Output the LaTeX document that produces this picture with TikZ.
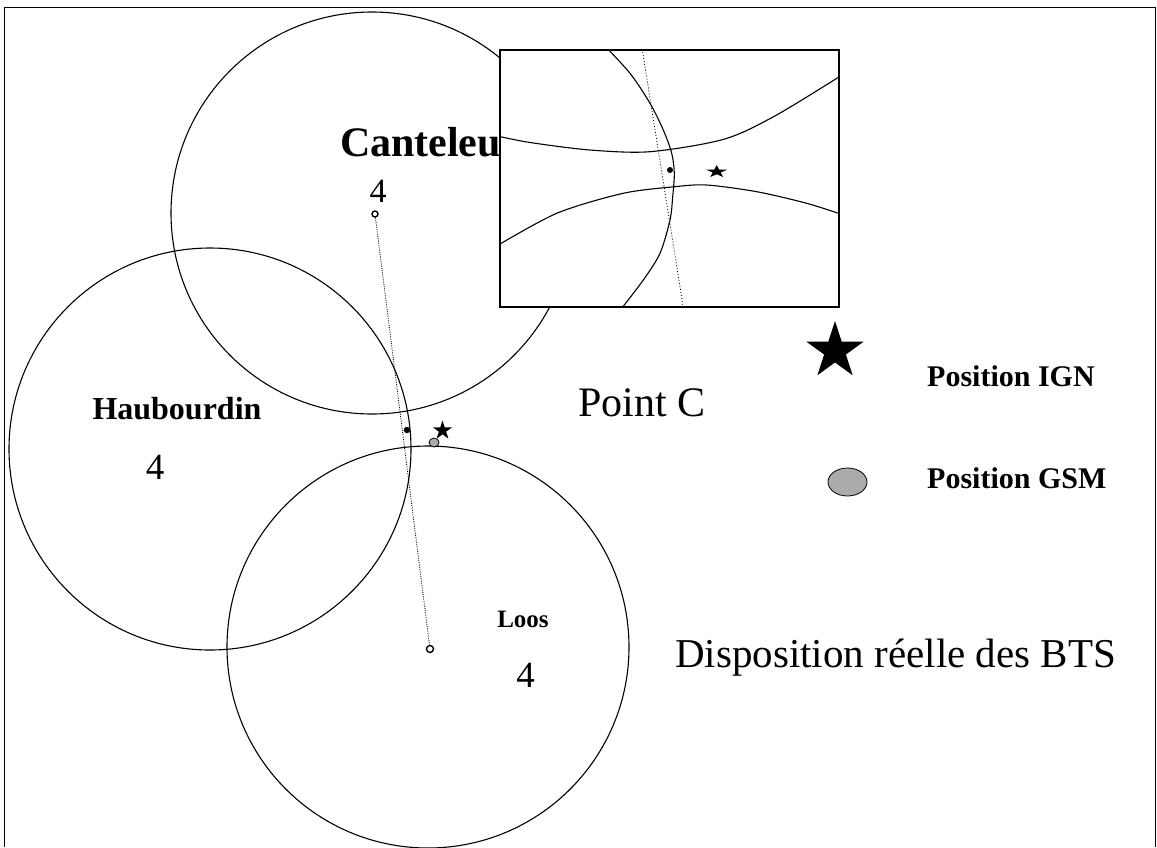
\documentclass[tikz,border=0pt]{standalone}
\usepackage{fontspec}
\setmainfont{Liberation Serif}
\usetikzlibrary{shapes.geometric}
\begin{document}
\begin{tikzpicture}[x=1pt,y=-1pt,
  cell/.style={circle, draw=black, line width=1.1pt, inner sep=0pt},
  btsdot/.style={circle, draw=black, fill=white, line width=1.4pt, inner sep=0pt, minimum size=6pt},
  fixdot/.style={circle, fill=black, inner sep=0pt, minimum size=6.5pt},
  ign/.style={star, star points=5, star point ratio=2.618, fill=black, inner sep=0pt},
  gsm/.style={ellipse, draw=black, fill=black!33, line width=0.8pt, inner sep=0pt},
  track/.style={line width=0.8pt, dash pattern=on 1pt off 1.3pt},
  arcline/.style={line width=1.1pt},
  lbl/.style={inner sep=0pt},
]
\useasboundingbox (0,0) rectangle (1157,847);
% frame
\draw[line width=1pt] (4,847) -- (4,7) -- (1155,7) -- (1155,847);

% cells
\node[cell, minimum size=402pt] (cant) at (372,213) {};
\node[cell, minimum size=402pt] (haub) at (210,449) {};
\node[cell, minimum size=402pt] (loos) at (428,647) {};

% BTS positions and track
\node[btsdot] (dc) at (375,214) {};
\node[btsdot, minimum size=7pt] (dl) at (430,649) {};
\draw[track] (dc) -- (dl);

% estimated point, IGN star, GSM position
\node[fixdot] (pc) at (407,430) {};
\node[ign, minimum size=20pt] (ignpt) at (442.5,430.5) {};
\node[gsm, minimum width=10pt, minimum height=9pt] (gsmpt) at (434,442.5) {};

% inset
\node[draw=black, fill=white, line width=1.3pt, minimum width=339pt, minimum height=257pt, inner sep=0pt] (inset) at (669.5,178.5) {};
\begin{scope}
  \clip (500,50) rectangle (839,307);
  \draw[arcline] plot[smooth] coordinates {(495,135.5) (530,142.5) (590,150) (650,151.7) (723,139.5) (773,117) (839,77) (845,73)};
  \draw[arcline] plot[smooth] coordinates {(495,247) (556.7,213.3) (623.3,193.3) (675,186.7) (706.7,185) (756.7,191.7) (806.7,203.3) (845,215.5)};
  \draw[arcline] plot[smooth] coordinates {(603,44) (630,73.3) (650,103.3) (663.3,130) (671.7,153.3) (674.3,173.3) (672.7,196.7) (670,220) (660,253.3) (643.3,280) (618,313)};
  \draw[track, dash pattern=on 1pt off 2pt] (641.7,46) -- (684,312);
  \node[fixdot, minimum size=6pt] (pcz) at (670,170) {};
  \begin{scope}[shift={(716.7,171.7)}, yscale=0.6, transform shape]
    \node[ign, minimum size=22pt] (ignz) at (0,0) {};
  \end{scope}
\end{scope}

% labels
\node[lbl, anchor=base, font=\fontsize{42}{48}\selectfont\bfseries] (lcant) at (420.5,156) {Canteleu};
\node[lbl, anchor=base, font=\fontsize{34}{40}\selectfont] (ncant) at (378,202) {4};
\node[lbl, anchor=base, font=\fontsize{32}{38}\selectfont\bfseries] (lhaub) at (177,419) {Haubourdin};
\node[lbl, anchor=base, font=\fontsize{37}{42}\selectfont] (nhaub) at (155,479) {4};
\node[lbl, anchor=base, font=\fontsize{25}{30}\selectfont\bfseries] (lloos) at (523,627) {Loos};
\node[lbl, anchor=base, font=\fontsize{37}{42}\selectfont] (nloos) at (525.5,687) {4};
\node[lbl, anchor=base west, font=\fontsize{42}{48}\selectfont] (lpt) at (578,416) {Point C};
\node[lbl, anchor=base west, font=\fontsize{41}{48}\selectfont] (ltitle) at (675,667) {Disposition réelle des BTS};

% legend
\node[ign, minimum size=60pt] (ignkey) at (835,351) {};
\node[lbl, anchor=base west, font=\fontsize{30}{36}\selectfont\bfseries] (lign) at (927,386) {Position IGN};
\node[gsm, minimum width=39pt, minimum height=28pt] (gsmkey) at (847.5,482) {};
\node[lbl, anchor=base west, font=\fontsize{30}{36}\selectfont\bfseries] (lgsm) at (927,488) {Position GSM};
\end{tikzpicture}
\end{document}
